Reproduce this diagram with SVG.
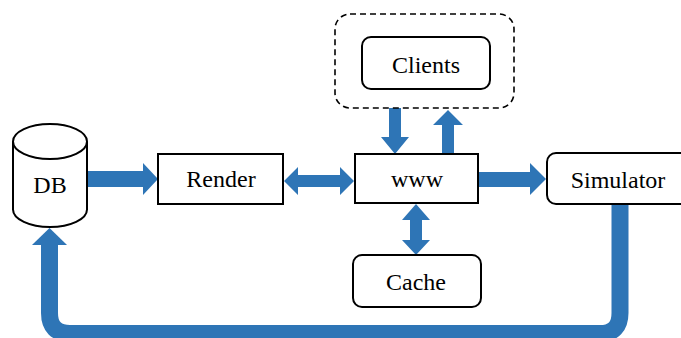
<svg xmlns="http://www.w3.org/2000/svg" width="681" height="338" viewBox="0 0 681 338">
  <style>
    .box { fill: #ffffff; stroke: #000000; stroke-width: 2; }
    .dash { fill: none; stroke: #000000; stroke-width: 1.6; stroke-dasharray: 6 4; }
    .arr { fill: #2E75B6; stroke: none; }
    .loop { fill: none; stroke: #2E75B6; stroke-width: 17; }
    .lbl { font-family: "Liberation Serif", "Times New Roman", serif; font-size: 24px; fill: #000000; text-anchor: middle; }
  </style>
  <rect width="681" height="338" fill="#ffffff"/>

  <g id="connectors">
    <path class="arr" d="M87,171 H143 V163 L158,179 L143,195 V187 H87 Z"/>
    <path class="arr" d="M284,181 L298,167 V175 H340 V167 L354,181 L340,195 V187 H298 V195 Z"/>
    <path class="arr" d="M478,172 H530 V163 L546,179 L530,195 V187 H478 Z"/>
    <path class="arr" d="M389,108 H401 V137 H409 L395,154 L381,137 H389 Z"/>
    <path class="arr" d="M442,154 V125 H433 L448,110 L463,125 H454 V154 Z"/>
    <path class="arr" d="M416,204 L430,220 H422 V240 H430 L416,255 L402,240 H410 V220 H402 Z"/>
    <path class="loop" d="M620,204 V313 Q620,333.5 600,333.5 H70 Q49.5,333.5 49.5,313 V243"/>
    <path class="arr" d="M32,245 L49.5,228 L67,245 Z"/>
  </g>

  <g id="db">
    <path class="box" d="M13,141.5 V209.5 A37,17.5 0 0 0 87,209.5 V141.5"/>
    <ellipse class="box" cx="50" cy="141.5" rx="37" ry="17.5"/>
    <text class="lbl" x="50" y="193">DB</text>
  </g>

  <g id="render">
    <rect class="box" x="158" y="154" width="125" height="50"/>
    <text class="lbl" x="221" y="187">Render</text>
  </g>

  <g id="www">
    <rect class="box" x="355" y="154" width="123" height="49"/>
    <text class="lbl" x="417" y="187">www</text>
  </g>

  <g id="clients-group">
    <rect class="dash" x="335" y="14" width="179" height="94" rx="15" ry="15"/>
  </g>

  <g id="clients">
    <rect class="box" x="362" y="37" width="128" height="52" rx="9" ry="9"/>
    <text class="lbl" x="426" y="73">Clients</text>
  </g>

  <g id="simulator">
    <rect class="box" x="547" y="153" width="150" height="51" rx="9" ry="9"/>
    <text class="lbl" x="618" y="188">Simulator</text>
  </g>

  <g id="cache">
    <rect class="box" x="353" y="255" width="128" height="52" rx="9" ry="9"/>
    <text class="lbl" x="416" y="290">Cache</text>
  </g>
</svg>
